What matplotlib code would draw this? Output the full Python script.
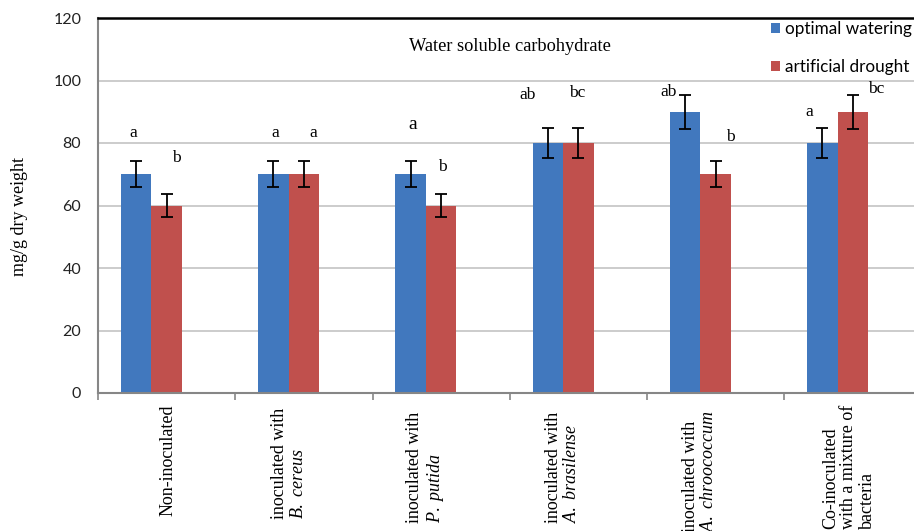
import matplotlib.pyplot as plt
import matplotlib.transforms as mtransforms
import numpy as np

plt.rcParams["mathtext.fontset"] = "custom"
plt.rcParams["mathtext.rm"] = "Liberation Serif"
plt.rcParams["mathtext.it"] = "Liberation Serif:italic"

# treatments (x axis), two lines per label where needed
groups = [
    "Non-inoculated",
    "inoculated with\n$\\it{B.\\ cereus}$",
    "inoculated with\n$\\it{P.\\ putida}$",
    "inoculated with\n$\\it{A.\\ brasilense}$",
    "inoculated with\n$\\it{A.\\ chroococcum}$",
    "Co-inoculated\nwith a mixture of\nbacteria",
]
optimal = [70, 70, 70, 80, 90, 80]
optimal_err = [4.2, 4.2, 4.2, 4.8, 5.4, 4.8]
drought = [60, 70, 60, 80, 70, 90]
drought_err = [3.6, 4.2, 3.6, 4.8, 4.2, 5.4]
optimal_letters = ["a", "a", "a", "ab", "ab", "a"]
drought_letters = ["b", "a", "b", "bc", "b", "bc"]

# letter placement (x shift from group centre, y in data units)
opt_lx = [-0.24, -0.21, -0.21, -0.37, -0.34, -0.32]
opt_ly = [83.2, 83.2, 85.8, 95.4, 96.3, 89.9]
dr_lx = [0.07, 0.07, 0.01, -0.01, 0.11, 0.17]
dr_ly = [75.2, 83.2, 72.3, 96.0, 81.9, 97.3]

blue = "#4178BE"
red = "#C0504D"
serif = "Liberation Serif"
sans = "Lato"

fig = plt.figure(figsize=(9.14, 5.31), dpi=100)
ax = fig.add_axes([98 / 914, 138 / 531, 823.5 / 914, 375 / 531])

x = np.arange(len(groups))
w = 0.222
ax.bar(x - w, optimal, w, color=blue, label="optimal watering", zorder=2)
ax.bar(x, drought, w, color=red, label="artificial drought", zorder=2)
ax.errorbar(x - w, optimal, yerr=optimal_err, fmt="none", ecolor="black",
            elinewidth=1.3, capsize=4.5, capthick=1.3, zorder=3)
ax.errorbar(x, drought, yerr=drought_err, fmt="none", ecolor="black",
            elinewidth=1.3, capsize=4.5, capthick=1.3, zorder=3)

for i in range(len(groups)):
    fs = 14 if i == 2 else 12.5
    ax.text(i + opt_lx[i], opt_ly[i], optimal_letters[i], ha="center",
            va="center", family=serif, fontsize=fs)
    ax.text(i + dr_lx[i], dr_ly[i], drought_letters[i], ha="center",
            va="center", family=serif, fontsize=12.5)

ax.set_xlim(-0.5, len(groups) - 0.5)
ax.set_ylim(0, 120)
ax.set_yticks(range(0, 121, 20))
ax.yaxis.grid(True, color="#BEBEBE", linewidth=1.1, zorder=0)
ax.set_axisbelow(True)
ax.tick_params(axis="y", length=0, pad=12, labelsize=11.5, labelcolor="#222222")
for lbl in ax.get_yticklabels():
    lbl.set_family(sans)

# category boundaries get small tick marks, labels drawn separately
ax.set_xticks(np.arange(-0.5, len(groups), 1.0))
ax.set_xticklabels([])
ax.tick_params(axis="x", length=5, width=1.2, color="#868686", direction="out")

for s in ["left", "bottom"]:
    ax.spines[s].set_color("#868686")
    ax.spines[s].set_linewidth(1.5)
ax.spines["top"].set_color("black")
ax.spines["top"].set_linewidth(1.8)
ax.spines["right"].set_visible(False)

# rotated category labels
lab_dx = [1, -15, -15, -16, -16, -4]
lab_top = [405, 408, 412, 412, 410, 405]
for i, g in enumerate(groups):
    trans = mtransforms.blended_transform_factory(ax.transData, fig.transFigure)
    off = mtransforms.ScaledTranslation(lab_dx[i] / 100, 0, fig.dpi_scale_trans)
    ax.text(i, 1 - lab_top[i] / 531, g, rotation=90, ha="center", va="top",
            multialignment="left", family=serif, fontsize=13,
            linespacing=1.1, transform=trans + off)

ax.text(2.5, 111, "Water soluble carbohydrate", ha="center", va="center",
        family=serif, fontsize=13.2)
fig.text(20 / 914, 1 - 216 / 531, "mg/g dry weight", rotation=90,
         ha="center", va="center", family=serif, fontsize=13)

leg = ax.legend(loc="upper left", bbox_to_anchor=(764 / 914, 1 - 14 / 531),
                bbox_transform=fig.transFigure, frameon=False,
                prop={"family": sans, "size": 12.3}, handlelength=0.55,
                handleheight=0.55, handletextpad=0.3, labelspacing=1.3,
                borderaxespad=0)

fig.savefig("out.png", dpi=100)
